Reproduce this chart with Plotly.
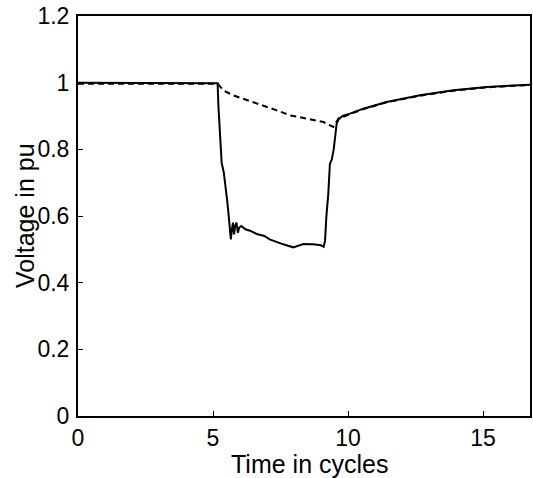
import plotly.graph_objects as go

# Solid trace: voltage at faulted bus (deep sag)
time_solid = [0, 5.1, 5.17, 5.2, 5.25, 5.32, 5.4, 5.47, 5.52, 5.57, 5.62, 5.66, 5.7, 5.74,
              5.78, 5.82, 5.87, 5.92, 5.97, 6.05, 6.2, 6.4, 6.62, 6.9, 7.1, 7.36, 7.6, 7.97,
              8.1, 8.35, 8.7, 9.0, 9.1, 9.15, 9.2, 9.27, 9.33, 9.4, 9.47, 9.54, 9.58, 9.65,
              9.8, 10.0, 10.57, 11.43, 12.67, 13.9, 15.14, 16.74]
volt_solid = [1.0, 1.0, 0.998, 0.93, 0.85, 0.76, 0.73, 0.69, 0.65, 0.61, 0.57, 0.53, 0.56, 0.58,
              0.545, 0.57, 0.58, 0.55, 0.565, 0.57, 0.56, 0.555, 0.546, 0.54, 0.53, 0.521, 0.515, 0.506,
              0.51, 0.516, 0.515, 0.512, 0.508, 0.526, 0.6, 0.667, 0.757, 0.77, 0.8, 0.857, 0.877, 0.89,
              0.9, 0.905, 0.922, 0.942, 0.962, 0.977, 0.987, 0.994]

# Dashed trace: voltage with compensation (shallow sag)
time_dash = [0, 5.17, 5.3, 5.38, 5.75, 6.12, 6.62, 7.36, 7.85, 8.47, 9.09, 9.46, 9.52, 9.58,
             9.65, 9.8, 10.57, 11.43, 12.67, 13.9, 15.14, 16.74]
volt_dash = [0.997, 0.997, 0.985, 0.977, 0.962, 0.952, 0.937, 0.917, 0.902, 0.892, 0.882, 0.867,
             0.875, 0.887, 0.893, 0.897, 0.921, 0.941, 0.961, 0.976, 0.986, 0.993]

x_ticks = [0, 5, 10, 15]
y_ticks = [0, 0.2, 0.4, 0.6, 0.8, 1, 1.2]
y_tick_labels = ["0", "0.2", "0.4", "0.6", "0.8", "1", "1.2"]

FONT = "Arial, Liberation Sans, sans-serif"

fig = go.Figure()
fig.add_trace(go.Scatter(x=time_dash, y=volt_dash, mode="lines",
                         line=dict(color="black", width=2, dash="6px,4px"), showlegend=False))
fig.add_trace(go.Scatter(x=time_solid, y=volt_solid, mode="lines",
                         line=dict(color="black", width=2), showlegend=False))

axis_common = dict(showline=True, linecolor="black", linewidth=2, mirror=True,
                   ticks="inside", ticklen=5, tickwidth=1, tickcolor="black",
                   showgrid=False, zeroline=False, automargin=False,
                   tickfont=dict(family=FONT, size=23, color="black"))

fig.update_xaxes(range=[0, 16.74], tickvals=x_ticks, ticktext=[str(v) for v in x_ticks],
                 ticklabelstandoff=0, **axis_common)
fig.update_yaxes(range=[0, 1.2], tickvals=y_ticks, ticktext=y_tick_labels,
                 ticklabelstandoff=2, **axis_common)

PLOT_W = 533 - 78 - 3
PLOT_H = 478 - 16 - 62

fig.add_annotation(text="Time in cycles", x=(309 - 78) / PLOT_W, y=-(464 - 416) / PLOT_H,
                   xref="paper", yref="paper", xanchor="center", yanchor="middle", showarrow=False,
                   font=dict(family=FONT, size=25, color="black"))
fig.add_annotation(text="Voltage in pu", x=(25 - 78) / PLOT_W, y=0.5, xref="paper", yref="paper",
                   xanchor="center", yanchor="middle", textangle=-90, showarrow=False,
                   font=dict(family=FONT, size=25, color="black"))

fig.update_layout(width=533, height=478, margin=dict(l=78, r=3, t=16, b=62),
                  paper_bgcolor="white", plot_bgcolor="white")

fig.write_html("out.html", config={"displayModeBar": False},
               post_script="document.body.style.margin='0';document.body.style.overflow='hidden';")
